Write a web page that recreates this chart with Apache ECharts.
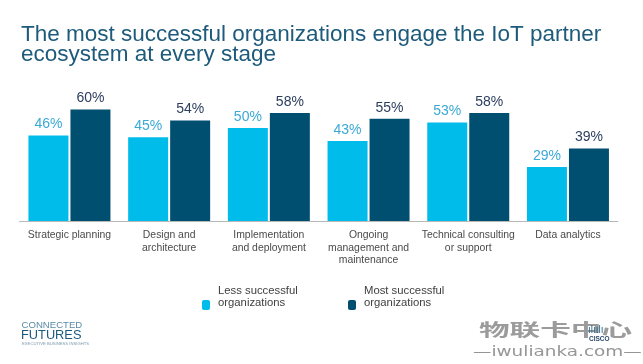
<!DOCTYPE html>
<html>
<head>
<meta charset="utf-8">
<script src="https://cdn.jsdelivr.net/npm/echarts@6/dist/echarts.min.js"></script>
<style>
html,body{margin:0;padding:0;background:#fff;}
#main{width:643px;height:364px;}
</style>
</head>
<body>
<div id="main"></div>
<script>
var categories = ['Strategic planning', 'Design and\narchitecture', 'Implementation\nand deployment', 'Ongoing\nmanagement and\nmaintenance', 'Technical consulting\nor support', 'Data analytics'];
var seriesNames = ['Less successful\norganizations', 'Most successful\norganizations'];
var lessSuccessful = [46, 45, 50, 43, 53, 29];
var mostSuccessful = [60, 54, 58, 55, 58, 39];
var titleText = 'The most successful organizations engage the IoT partner\necosystem at every stage';

var FONT = '"Liberation Sans", Arial, sans-serif';
var legendText = {
  fontFamily: FONT, fontSize: 11.3, color: '#404040', padding: [0, 0, 0, 3],
  rich: {
    a: {fontFamily: FONT, fontSize: 11.3, color: '#404040', lineHeight: 12.5},
    b: {fontFamily: FONT, fontSize: 4, lineHeight: 16.5}
  }
};
function legendFormatter(name) {
  return name.split('\n').map(function (s) { return '{a|' + s + '}'; }).join('\n') + '\n{b| }';
}
var chart = echarts.init(document.getElementById('main'));
chart.setOption({
  backgroundColor: '#ffffff',
  animation: false,
  title: {
    text: titleText,
    left: 16,
    top: 20,
    textStyle: {fontFamily: FONT, fontSize: 22.5, fontWeight: 'normal', color: '#1d5a7b', lineHeight: 20}
  },
  legend: [
    {data: [seriesNames[0]], left: 197, top: 280, itemWidth: 8, itemHeight: 10, textStyle: legendText, formatter: legendFormatter},
    {data: [seriesNames[1]], left: 343, top: 280, itemWidth: 8, itemHeight: 10, textStyle: legendText, formatter: legendFormatter}
  ],
  grid: {left: 19.6, right: 25.2, top: 35, bottom: 143, containLabel: false},
  xAxis: {
    type: 'category',
    data: categories,
    axisLine: {lineStyle: {color: '#b8b8b8', width: 1}},
    axisTick: {show: false},
    axisLabel: {fontFamily: FONT, fontSize: 10.4, color: '#4a4a4a', lineHeight: 12.5, margin: 8, interval: 0}
  },
  yAxis: {type: 'value', min: 0, max: 100, show: false, splitLine: {show: false}},
  series: [
    {name: seriesNames[0], type: 'bar', data: lessSuccessful, barWidth: 40, barGap: '5%',
     itemStyle: {color: '#00bceb'},
     label: {show: true, position: 'top', distance: 4, formatter: '{c}%', fontFamily: FONT, fontSize: 14, color: '#3aa9d6'}},
    {name: seriesNames[1], type: 'bar', data: mostSuccessful, barWidth: 40,
     itemStyle: {color: '#004f71'},
     label: {show: true, position: 'top', distance: 4, formatter: '{c}%', fontFamily: FONT, fontSize: 14, color: '#2c3e5e'}}
  ],
  graphic: [
    {type: 'text', left: 21.5, top: 320.5, style: {text: 'CONNECTED', fontFamily: FONT, fontSize: 9.6, fill: '#5a8aa6'}},
    {type: 'text', left: 21, top: 329, style: {text: 'FUTURES', fontFamily: FONT, fontSize: 12.8, fill: '#1d5a80'}},
    {type: 'text', left: 22, top: 342, style: {text: 'EXECUTIVE BUSINESS INSIGHTS', fontFamily: FONT, fontSize: 4.2, fill: '#7a98aa'}},
    {type: 'text', x: 479, y: 321, scaleX: 1.8, style: {text: '物联卡中心', fontFamily: '"Noto Sans CJK SC", sans-serif', fontSize: 17, fontWeight: 'bold', fill: '#8a8a8a', opacity: 0.85}},
    {type: 'text', x: 473, y: 345, scaleX: 1.27, style: {text: '—iwulianka.com—', fontFamily: '"DejaVu Sans", sans-serif', fontSize: 14.5, fill: '#8a8a8a', opacity: 0.9}},
    {type: 'text', left: 588, top: 325, style: {text: 'ılıılı', fontFamily: FONT, fontSize: 10, fill: '#2a6a8a'}},
    {type: 'text', left: 589, top: 336, style: {text: 'CISCO', fontFamily: FONT, fontSize: 6.5, fontWeight: 'bold', fill: '#2a4a6a'}}
  ]
});
</script>
</body>
</html>
